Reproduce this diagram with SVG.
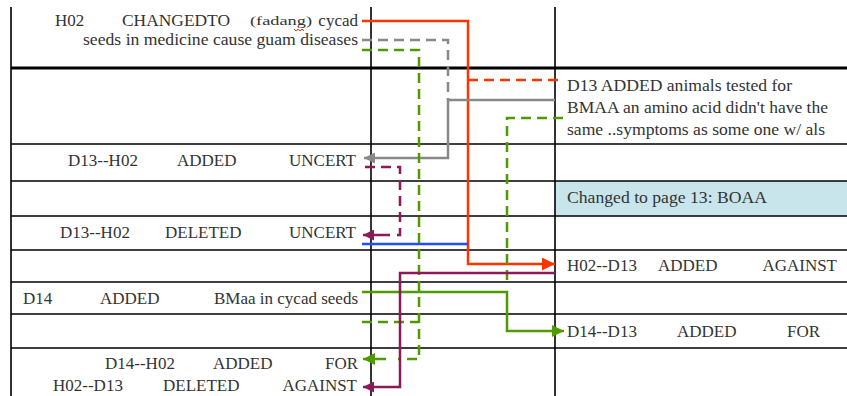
<svg xmlns="http://www.w3.org/2000/svg" width="847" height="396" viewBox="0 0 847 396">
<style>
.t{font-family:"Liberation Serif","Times New Roman",serif;font-size:17px;fill:#333}
.s{font-size:12px}
.g{stroke:#000;stroke-width:1.6;fill:none}
.c{fill:none;stroke-width:2.5}
.red{stroke:#ff3300}.gry{stroke:#888}.grn{stroke:#4f9a00}.pur{stroke:#8c1a5a}.blu{stroke:#1f4dff}
.d{stroke-dasharray:10,6}
</style>
<defs>
<marker id="aR" viewBox="0 0 10 10" refX="10" refY="5" markerWidth="14" markerHeight="13" markerUnits="userSpaceOnUse" orient="auto"><path d="M0,0L10,5L0,10z" fill="#ff3300"/></marker>
<marker id="aG" viewBox="0 0 10 10" refX="10" refY="5" markerWidth="11" markerHeight="11" markerUnits="userSpaceOnUse" orient="auto"><path d="M0,0L10,5L0,10z" fill="#888"/></marker>
<marker id="aN" viewBox="0 0 10 10" refX="10" refY="5" markerWidth="12" markerHeight="12" markerUnits="userSpaceOnUse" orient="auto"><path d="M0,0L10,5L0,10z" fill="#4f9a00"/></marker>
<marker id="aP" viewBox="0 0 10 10" refX="10" refY="5" markerWidth="11" markerHeight="11" markerUnits="userSpaceOnUse" orient="auto"><path d="M0,0L10,5L0,10z" fill="#8c1a5a"/></marker>
</defs>
<rect width="847" height="396" fill="#fff"/>
<g id="grid">
<rect x="555" y="181" width="292" height="35" fill="#c8e5eb"/>
<path class="g" d="M11,7V396M371,7V396M555,7V396"/>
<path d="M11,68H847" stroke="#000" stroke-width="2.8"/>
<path class="g" d="M11,144H847M11,181H847M11,216H847M11,250H847M11,282H847M11,314H847M11,348H847"/>
</g>
<g id="connectors">
<path class="c red" d="M362,21H468V264H555" marker-end="url(#aR)"/>
<path class="c red d" d="M468,80H563"/>
<path class="c gry d" d="M362,40H448V100"/>
<path class="c gry" d="M555,100H448V158H364" marker-end="url(#aG)"/>
<path class="c grn d" d="M362,50H419V359H398"/>
<path class="c grn d" d="M362,322H419"/>
<path class="c grn" d="M386,359H363" marker-end="url(#aN)"/>
<path class="c grn d" d="M563,118H507V282"/>
<path class="c grn" d="M362,292H507V331H564" marker-end="url(#aN)"/>
<path class="c pur d" d="M365,167H400V235H392"/>
<path class="c pur" d="M390,235H363" marker-end="url(#aP)"/>
<path class="c pur" d="M555,273H400V387H363" marker-end="url(#aP)"/>
<path class="c blu" d="M362,244H468"/>
</g>
<g id="n-h02">
<text class="t" x="55" y="26">H02</text>
<text class="t" x="122" y="26" textLength="108" lengthAdjust="spacingAndGlyphs">CHANGEDTO</text>
<text class="t s" x="250" y="25" textLength="62" lengthAdjust="spacingAndGlyphs">(fadang)</text>
<path d="M294,29l2,2l2,-2l2,2l2,-2l2,2" stroke="#ff3300" stroke-width="1" fill="none"/>
<text class="t" x="358" y="26" text-anchor="end">cycad</text>
<text class="t" x="83" y="45" textLength="275" lengthAdjust="spacingAndGlyphs">seeds in medicine cause guam diseases</text>
</g>
<g id="n-d13">
<text class="t" x="567" y="91" textLength="225" lengthAdjust="spacingAndGlyphs">D13 ADDED animals tested for</text>
<text class="t" x="567" y="113" textLength="261" lengthAdjust="spacingAndGlyphs">BMAA an amino acid didn't have the</text>
<text class="t" x="567" y="135" textLength="258" lengthAdjust="spacingAndGlyphs">same ..symptoms as some one w/ als</text>
</g>
<g id="n-d13h02-added">
<text class="t" x="68" y="166">D13--H02</text>
<text class="t" x="177" y="166">ADDED</text>
<text class="t" x="356" y="166" text-anchor="end">UNCERT</text>
</g>
<g id="n-changed">
<text class="t" x="567" y="203" textLength="200" lengthAdjust="spacingAndGlyphs">Changed to page 13: BOAA</text>
</g>
<g id="n-d13h02-deleted">
<text class="t" x="60" y="238">D13--H02</text>
<text class="t" x="165" y="238">DELETED</text>
<text class="t" x="356" y="238" text-anchor="end">UNCERT</text>
</g>
<g id="n-h02d13-added">
<text class="t" x="567" y="271">H02--D13</text>
<text class="t" x="658" y="271">ADDED</text>
<text class="t" x="837" y="271" text-anchor="end">AGAINST</text>
</g>
<g id="n-d14">
<text class="t" x="23" y="304">D14</text>
<text class="t" x="100" y="304">ADDED</text>
<text class="t" x="358" y="304" text-anchor="end">BMaa in cycad seeds</text>
</g>
<g id="n-d14d13">
<text class="t" x="567" y="337">D14--D13</text>
<text class="t" x="677" y="337">ADDED</text>
<text class="t" x="787" y="337">FOR</text>
</g>
<g id="n-d14h02">
<text class="t" x="105" y="369">D14--H02</text>
<text class="t" x="213" y="369">ADDED</text>
<text class="t" x="358" y="369" text-anchor="end">FOR</text>
</g>
<g id="n-h02d13-deleted">
<text class="t" x="53" y="391">H02--D13</text>
<text class="t" x="163" y="391">DELETED</text>
<text class="t" x="357" y="391" text-anchor="end">AGAINST</text>
</g>
</svg>
